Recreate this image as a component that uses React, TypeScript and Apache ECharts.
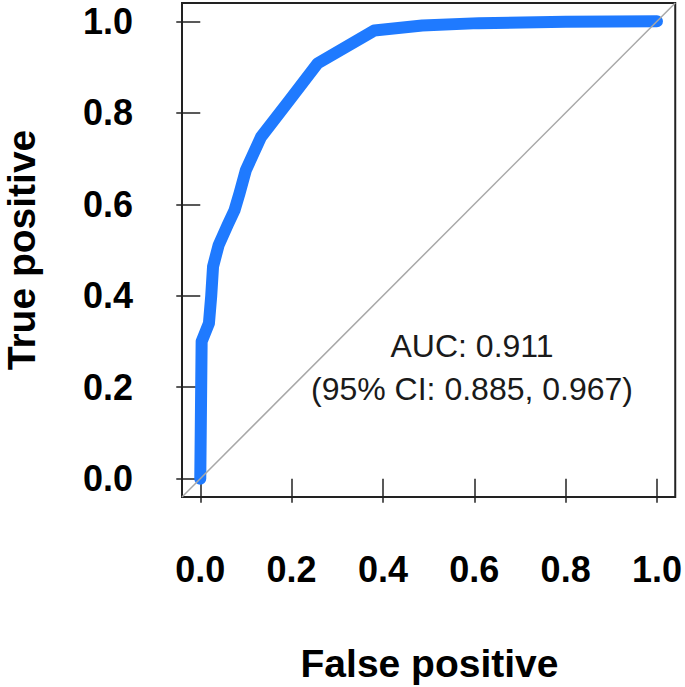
import React, { useEffect, useRef } from "react";
import * as echarts from "echarts";

const fpr = [0.0, 0.003, 0.019, 0.024, 0.028, 0.04, 0.06, 0.075, 0.086, 0.1, 0.133, 0.195, 0.257, 0.381, 0.486, 0.61, 0.8, 1.0];
const tpr = [0.0, 0.3, 0.34, 0.4, 0.464, 0.51, 0.555, 0.587, 0.624, 0.675, 0.747, 0.827, 0.908, 0.98, 0.991, 0.996, 0.999, 1.0];
const tickValues = [0, 0.2, 0.4, 0.6, 0.8, 1.0];
const diagonal = [-0.04, 1.04];
const xTitle = "False positive";
const yTitle = "True positive";
const aucLines = ["AUC: 0.911", "(95% CI: 0.885, 0.967)"];

const FONT = '"Liberation Sans", Arial, Helvetica, sans-serif';

export default function App() {
  const ref = useRef<HTMLDivElement>(null);
  useEffect(() => {
    if (!ref.current) return;
    const chart = echarts.init(ref.current, null, { renderer: "svg" });
    const labelStyle = {
      fontFamily: FONT,
      fontSize: 36,
      fontWeight: "bold" as const,
      color: "#000",
      formatter: (v: number) => v.toFixed(1),
      customValues: tickValues,
    };
    const tick = {
      show: true,
      inside: false,
      length: 24,
      customValues: tickValues,
      lineStyle: { color: "#222", width: 1.5 },
    };
    chart.setOption({
      animation: false,
      backgroundColor: "#fff",
      grid: {
        left: 182,
        right: 8,
        top: 3,
        bottom: 190,
        show: true,
        borderColor: "#222",
        borderWidth: 2,
        backgroundColor: "transparent",
      },
      xAxis: {
        type: "value",
        min: -0.04,
        max: 1.04,
        axisLine: { show: false },
        splitLine: { show: false },
        axisTick: tick,
        axisLabel: { ...labelStyle, margin: 54 },
      },
      yAxis: {
        type: "value",
        min: -0.04,
        max: 1.04,
        axisLine: { show: false },
        splitLine: { show: false },
        axisTick: tick,
        axisLabel: { ...labelStyle, margin: 49, padding: [4, 0, 0, 0] },
      },
      series: [
        {
          type: "line",
          data: fpr.map((x, i) => [x, tpr[i]]),
          symbol: "none",
          lineStyle: { color: "#1f7aff", width: 12, cap: "round", join: "round" },
          z: 2,
        },
        {
          type: "line",
          data: diagonal.map((v) => [v, v]),
          symbol: "none",
          lineStyle: { color: "#a8a8a8", width: 1.5 },
          z: 3,
        },
      ],
      graphic: [
        {
          type: "text",
          x: 429.5,
          y: 663,
          style: {
            text: xTitle,
            fontFamily: FONT,
            fontSize: 39,
            fontWeight: "bold",
            fill: "#000",
            align: "center",
            verticalAlign: "middle",
          },
        },
        {
          type: "text",
          x: 21,
          y: 250,
          rotation: Math.PI / 2,
          style: {
            text: yTitle,
            fontFamily: FONT,
            fontSize: 39,
            fontWeight: "bold",
            fill: "#000",
            align: "center",
            verticalAlign: "middle",
          },
        },
        ...aucLines.map((t, i) => ({
          type: "text",
          x: 472,
          y: 346 + i * 43,
          style: {
            text: t,
            fontFamily: FONT,
            fontSize: 32,
            fill: "#1a1a1a",
            align: "center",
            verticalAlign: "middle",
          },
        })),
      ],
    });
    return () => chart.dispose();
  }, []);
  return (
    <div
      ref={ref}
      style={{ position: "fixed", left: 0, top: 0, width: 685, height: 687, background: "#fff" }}
    />
  );
}
